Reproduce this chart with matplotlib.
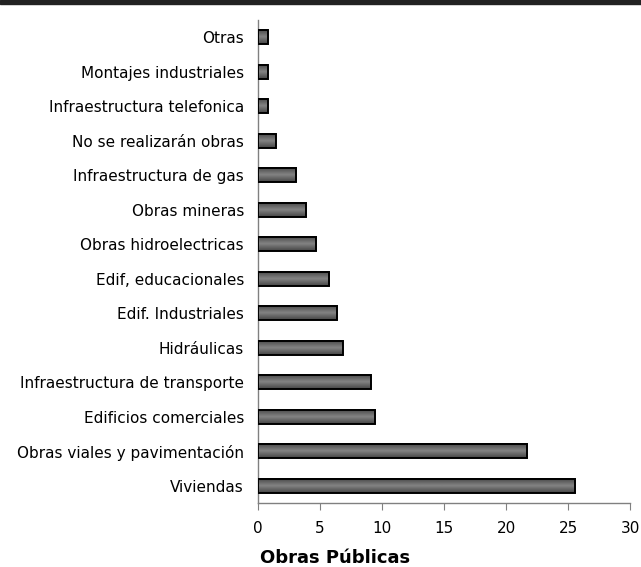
import matplotlib
matplotlib.use("Agg")
import numpy as np
import matplotlib.pyplot as plt
from matplotlib.patches import Rectangle

plt.rcParams['font.family'] = ['DejaVu Sans']

categorias = ['Otras', 'Montajes industriales', 'Infraestructura telefonica',
              'No se realizarán obras', 'Infraestructura de gas', 'Obras mineras',
              'Obras hidroelectricas', 'Edif, educacionales', 'Edif. Industriales',
              'Hidráulicas', 'Infraestructura de transporte', 'Edificios comerciales',
              'Obras viales y pavimentación', 'Viviendas']
valores = [0.8, 0.8, 0.8, 1.45, 3.1, 3.9, 4.7, 5.75, 6.4, 6.85, 9.1, 9.45, 21.7, 25.6]
xticks = [0, 5, 10, 15, 20, 25, 30]

fig = plt.figure(figsize=(6.41, 5.67), dpi=100)
ax = fig.add_axes([258/641, 1-503/567, 372/641, 483/567])

pos = list(range(len(categorias)))
alto = 0.42

# degradado gris de las barras
grad = np.concatenate([np.linspace(0.28, 0.50, 8), np.linspace(0.50, 0.28, 8)]).reshape(-1, 1)
for y, v in zip(pos, valores):
    ax.imshow(grad, cmap='gray', vmin=0, vmax=1, aspect='auto',
              extent=(0, v, y - alto/2, y + alto/2), zorder=2, interpolation='bilinear')
ax.barh(pos, valores, height=alto, color='none', edgecolor='black', linewidth=1.4, zorder=3)

ax.set_ylim(len(categorias)-0.5, -0.5)
ax.set_xlim(0, 30)
ax.set_yticks(pos)
ax.set_yticklabels(categorias, fontsize=11)
ax.set_xticks(xticks)
ax.set_xticklabels([str(t) for t in xticks], fontsize=11)
ax.tick_params(axis='y', length=0, pad=10)
ax.tick_params(axis='x', length=5, color='#808080', direction='out', pad=8)

for s in ['top', 'right']:
    ax.spines[s].set_visible(False)
for s in ['left', 'bottom']:
    ax.spines[s].set_color('#808080')
    ax.spines[s].set_linewidth(1)

fig.text(335/641, 1-558/567, 'Obras Públicas', ha='center', va='center',
         fontsize=13, fontweight='bold')

# franja negra superior
fig.patches.append(Rectangle((0, 1-4/567), 1, 4/567, transform=fig.transFigure,
                             color='#222222', zorder=5))

fig.savefig('out.png', dpi=100)
